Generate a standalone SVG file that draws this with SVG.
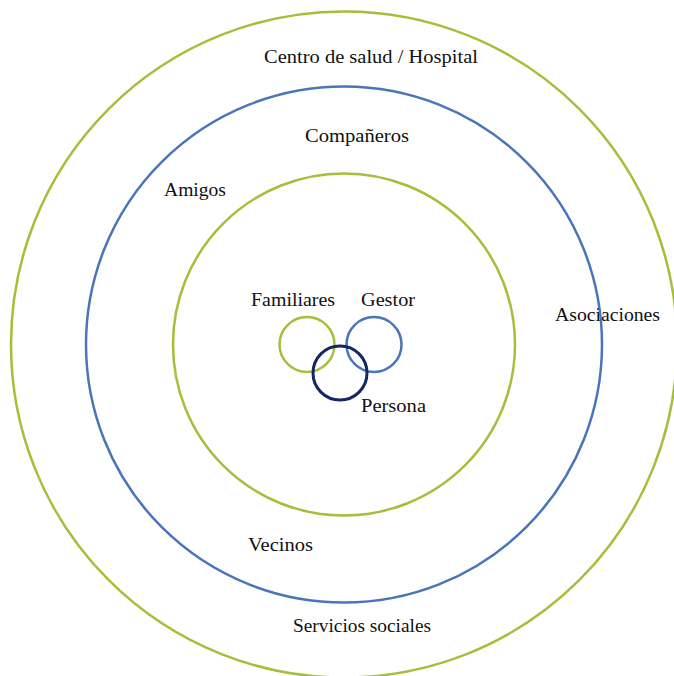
<svg xmlns="http://www.w3.org/2000/svg" width="674" height="676" viewBox="0 0 674 676">
<style>
.ring{fill:none;stroke-width:2.5}
.g{stroke:#A5BF3B}
.b{stroke:#4A75B8}
.n{stroke:#13285E;stroke-width:3}
.t{font-family:'Times New Roman',Times,'Liberation Serif',serif;font-size:19px;fill:#111}
</style>
<rect width="674" height="676" fill="#fff"/>
<g id="outer-ring">
<circle class="ring g" cx="344" cy="344.5" r="333"/>
<text class="t" x="264" y="63" textLength="214" lengthAdjust="spacingAndGlyphs">Centro de salud / Hospital</text>
<text class="t" x="555" y="321" textLength="105" lengthAdjust="spacingAndGlyphs">Asociaciones</text>
<text class="t" x="293" y="632" textLength="138" lengthAdjust="spacingAndGlyphs">Servicios sociales</text>
</g>
<g id="middle-ring">
<circle class="ring b" cx="344" cy="344.5" r="258"/>
<text class="t" x="305" y="142" textLength="104" lengthAdjust="spacingAndGlyphs">Compañeros</text>
<text class="t" x="164" y="196" textLength="62" lengthAdjust="spacingAndGlyphs">Amigos</text>
<text class="t" x="248" y="551" textLength="65" lengthAdjust="spacingAndGlyphs">Vecinos</text>
</g>
<g id="inner-ring">
<circle class="ring g" cx="344" cy="344.5" r="171"/>
</g>
<g id="familiares">
<circle class="ring g" cx="307" cy="344.5" r="27.5"/>
<text class="t" x="251" y="305.5" textLength="84" lengthAdjust="spacingAndGlyphs">Familiares</text>
</g>
<g id="gestor">
<circle class="ring b" cx="374" cy="344.5" r="27.5"/>
<text class="t" x="361" y="305.5" textLength="54" lengthAdjust="spacingAndGlyphs">Gestor</text>
</g>
<g id="persona">
<circle class="ring n" cx="340" cy="373" r="27"/>
<text class="t" x="361" y="412" textLength="65" lengthAdjust="spacingAndGlyphs">Persona</text>
</g>
</svg>
